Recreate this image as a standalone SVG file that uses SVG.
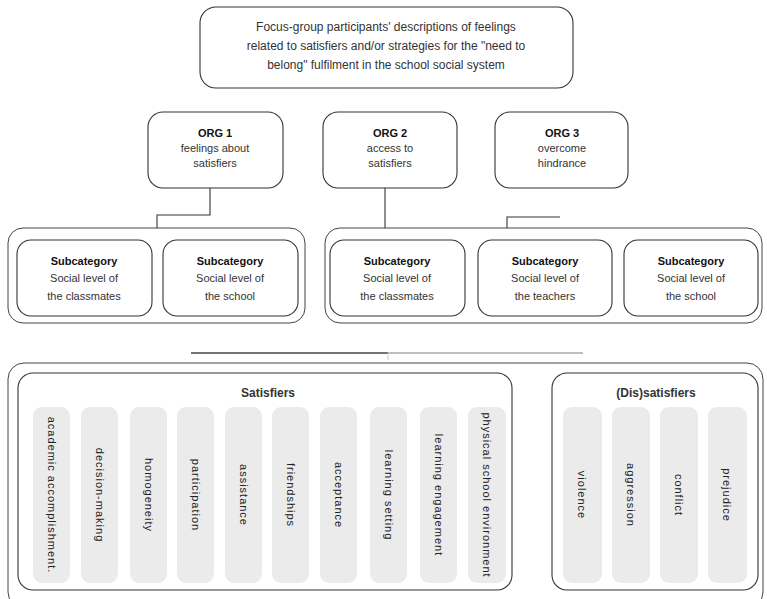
<svg xmlns="http://www.w3.org/2000/svg" width="767" height="599" viewBox="0 0 767 599">
<style>
.box{fill:#fff;stroke:#333;stroke-width:1.1}
.grp{fill:none;stroke:#444;stroke-width:1}
.pill{fill:#ebebeb;stroke:none}
.t{font-family:"Liberation Sans",Arial,sans-serif;font-size:11px;fill:#333;text-anchor:middle}
.b{font-weight:bold;fill:#111}
.tt{font-family:"Liberation Sans",Arial,sans-serif;font-size:12px;fill:#333;text-anchor:middle}
.vl{font-family:"Liberation Sans",Arial,sans-serif;font-size:11px;fill:#222;text-anchor:middle;letter-spacing:1px}
.ln{stroke:#333;stroke-width:1.1;fill:none}
</style>
<rect width="767" height="599" fill="#fff"/>

<g id="top">
<rect class="box" x="200" y="7" width="373" height="81" rx="16"/>
<text class="tt" x="386" y="31">Focus-group participants' descriptions of feelings</text>
<text class="tt" x="386" y="50">related to satisfiers and/or strategies for the "need to</text>
<text class="tt" x="386" y="69">belong" fulfilment in the school social system</text>
</g>

<g id="org1">
<rect class="box" x="148" y="112" width="135" height="76" rx="15"/>
<text class="t b" x="215" y="137">ORG 1</text>
<text class="t" x="215" y="152">feelings about</text>
<text class="t" x="215" y="167">satisfiers</text>
</g>
<g id="org2">
<rect class="box" x="323" y="112" width="134" height="76" rx="15"/>
<text class="t b" x="390" y="137">ORG 2</text>
<text class="t" x="390" y="152">access to</text>
<text class="t" x="390" y="167">satisfiers</text>
</g>
<g id="org3">
<rect class="box" x="495" y="112" width="133" height="76" rx="15"/>
<text class="t b" x="562" y="137">ORG 3</text>
<text class="t" x="562" y="152">overcome</text>
<text class="t" x="562" y="167">hindrance</text>
</g>

<g id="connectors">
<polyline class="ln" points="210,188 210,215 157,215 157,228"/>
<line class="ln" x1="385" y1="188" x2="385" y2="228"/>
<polyline class="ln" points="560,217 507,217 507,228" stroke="#777"/>
<line x1="191" y1="353" x2="388" y2="353" stroke="#444" stroke-width="1.3"/>
<line x1="388" y1="353" x2="583" y2="353" stroke="#aaa" stroke-width="1.3"/>
<line x1="388" y1="353" x2="388" y2="360" stroke="#ccc" stroke-width="1"/>
</g>

<g id="group-left">
<rect class="grp" x="8" y="228" width="297" height="95" rx="15"/>
</g>
<g id="group-right">
<rect class="grp" x="325" y="228" width="437" height="95" rx="15"/>
</g>

<g id="sub1">
<rect class="box" x="17" y="240" width="135" height="76" rx="14"/>
<text class="t b" x="84" y="265">Subcategory</text>
<text class="t" x="84" y="282">Social level of</text>
<text class="t" x="84" y="300">the classmates</text>
</g>
<g id="sub2">
<rect class="box" x="163" y="240" width="135" height="76" rx="14"/>
<text class="t b" x="230" y="265">Subcategory</text>
<text class="t" x="230" y="282">Social level of</text>
<text class="t" x="230" y="300">the school</text>
</g>
<g id="sub3">
<rect class="box" x="330" y="240" width="135" height="76" rx="14"/>
<text class="t b" x="397" y="265">Subcategory</text>
<text class="t" x="397" y="282">Social level of</text>
<text class="t" x="397" y="300">the classmates</text>
</g>
<g id="sub4">
<rect class="box" x="478" y="240" width="134" height="76" rx="14"/>
<text class="t b" x="545" y="265">Subcategory</text>
<text class="t" x="545" y="282">Social level of</text>
<text class="t" x="545" y="300">the teachers</text>
</g>
<g id="sub5">
<rect class="box" x="624" y="240" width="134" height="76" rx="14"/>
<text class="t b" x="691" y="265">Subcategory</text>
<text class="t" x="691" y="282">Social level of</text>
<text class="t" x="691" y="300">the school</text>
</g>

<g id="bottom-container">
<rect class="grp" x="8" y="363" width="755" height="245" rx="16"/>
</g>

<g id="satisfiers">
<rect class="box" x="18" y="373" width="494" height="217" rx="15"/>
<text class="tt b" x="268" y="397">Satisfiers</text>
<g>
<rect class="pill" x="33" y="407" width="37" height="176" rx="9"/>
<rect class="pill" x="81" y="407" width="37" height="176" rx="9"/>
<rect class="pill" x="130" y="407" width="37" height="176" rx="9"/>
<rect class="pill" x="177" y="407" width="37" height="176" rx="9"/>
<rect class="pill" x="225" y="407" width="37" height="176" rx="9"/>
<rect class="pill" x="272" y="407" width="37" height="176" rx="9"/>
<rect class="pill" x="320" y="407" width="37" height="176" rx="9"/>
<rect class="pill" x="370" y="407" width="37" height="176" rx="9"/>
<rect class="pill" x="420" y="407" width="37" height="176" rx="9"/>
<rect class="pill" x="468" y="407" width="38" height="176" rx="9"/>
</g>
<text class="vl" transform="translate(48,495) rotate(90)">academic accomplishment.</text>
<text class="vl" transform="translate(96,495) rotate(90)">decision-making</text>
<text class="vl" transform="translate(145,495) rotate(90)">homogeneity</text>
<text class="vl" transform="translate(192,495) rotate(90)">participation</text>
<text class="vl" transform="translate(240,495) rotate(90)">assistance</text>
<text class="vl" transform="translate(287,495) rotate(90)">friendships</text>
<text class="vl" transform="translate(335,495) rotate(90)">acceptance</text>
<text class="vl" transform="translate(385,495) rotate(90)">learning setting</text>
<text class="vl" transform="translate(435,495) rotate(90)">learning engagement</text>
<text class="vl" transform="translate(483,495) rotate(90)">physical school environment</text>
</g>

<g id="dissatisfiers">
<rect class="box" x="552" y="373" width="206" height="217" rx="15"/>
<text class="tt b" x="656" y="397">(Dis)satisfiers</text>
<rect class="pill" x="563" y="407" width="39" height="176" rx="9"/>
<rect class="pill" x="612" y="407" width="38" height="176" rx="9"/>
<rect class="pill" x="660" y="407" width="38" height="176" rx="9"/>
<rect class="pill" x="708" y="407" width="39" height="176" rx="9"/>
<text class="vl" transform="translate(578,495) rotate(90)">violence</text>
<text class="vl" transform="translate(627,495) rotate(90)">aggression</text>
<text class="vl" transform="translate(675,495) rotate(90)">conflict</text>
<text class="vl" transform="translate(723,495) rotate(90)">prejudice</text>
</g>
</svg>
